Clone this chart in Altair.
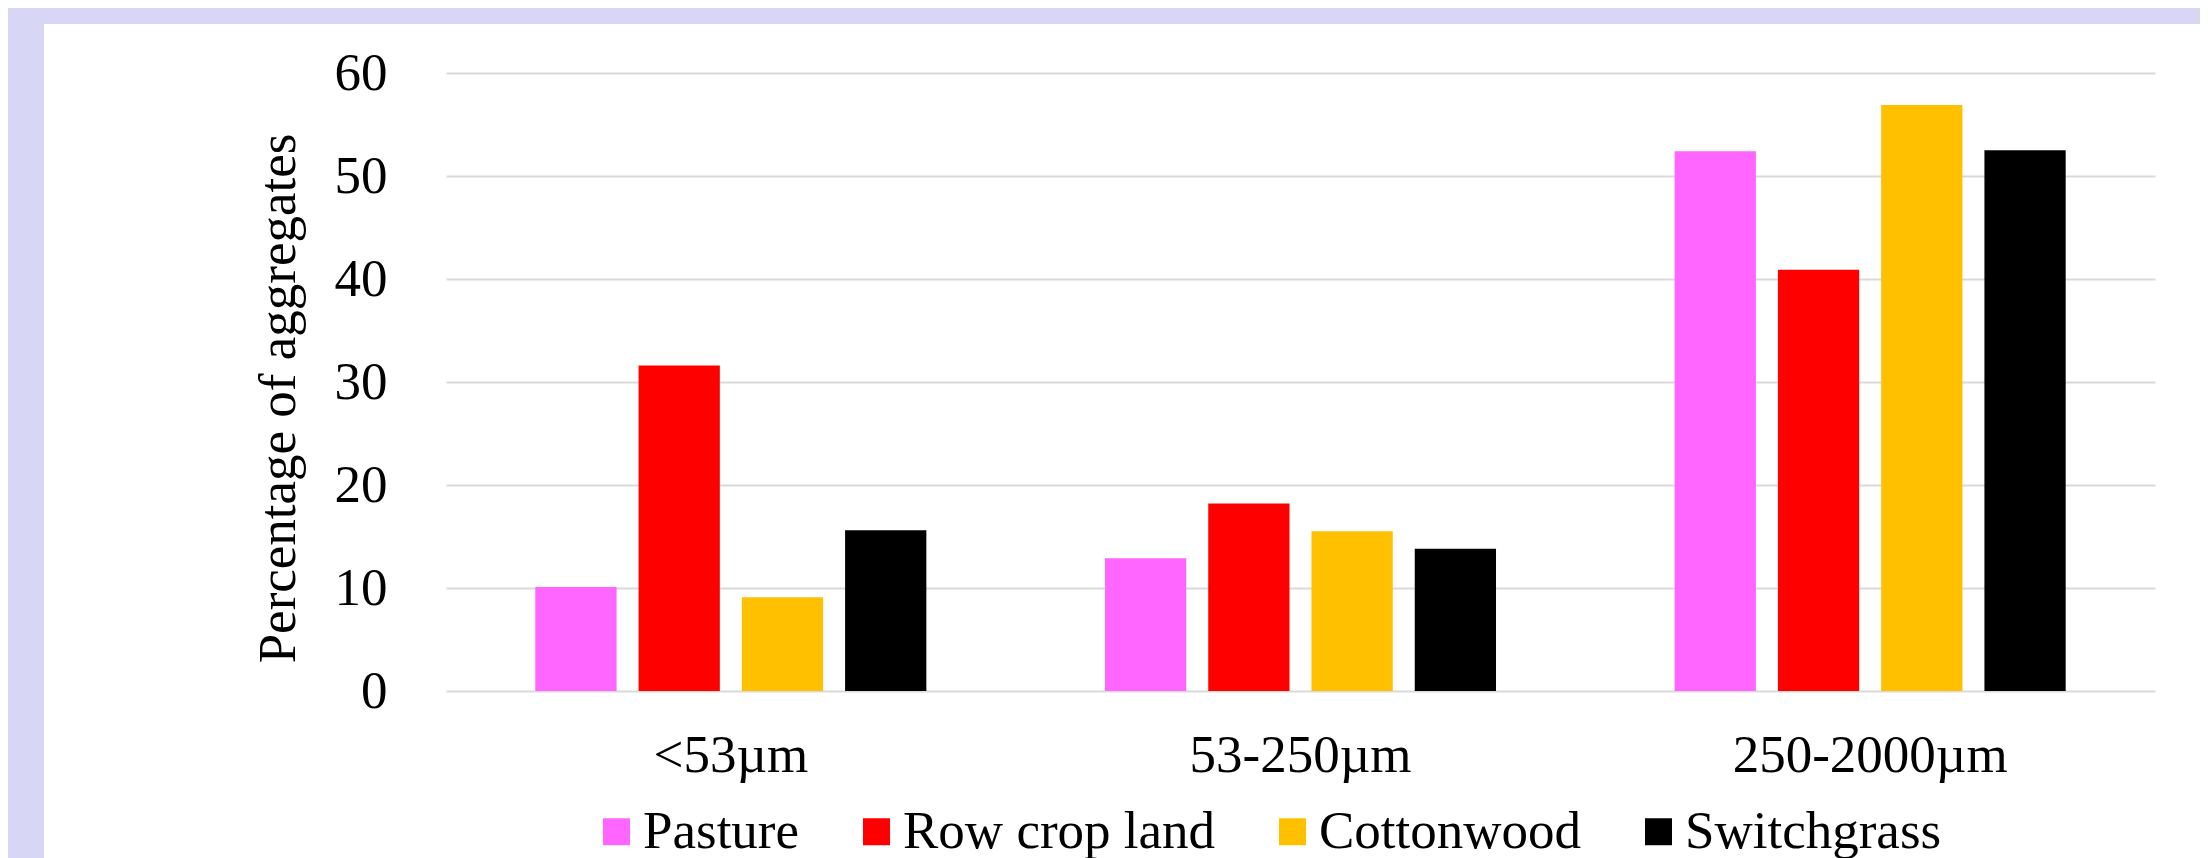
import altair as alt
import pandas as pd

categories = ["<53µm", "53-250µm", "250-2000µm"]
series = ["Pasture", "Row crop land", "Cottonwood", "Switchgrass"]
pasture = [10.1, 12.9, 52.4]
row_crop_land = [31.6, 18.2, 40.9]
cottonwood = [9.1, 15.5, 56.9]
switchgrass = [15.6, 13.8, 52.5]
colors = ["#FF66FF", "#FF0000", "#FFC000", "#000000"]
y_ticks = [0, 10, 20, 30, 40, 50, 60]

rows = []
for s, vals in zip(series, [pasture, row_crop_land, cottonwood, switchgrass]):
    for c, v in zip(categories, vals):
        rows.append({"size": c, "land": s, "value": v})
df = pd.DataFrame(rows)

W, H = 1709, 618
PAD_L, PAD_T, PAD_R, PAD_B = 438, 65, 45, 167
FONT = "Liberation Serif"
LAV = "#D7D7F5"

bg = pd.DataFrame({"k": [0]})
top_strip = alt.Chart(bg).mark_rect(color=LAV).encode(
    x=alt.value(-PAD_L), x2=alt.value(W + PAD_R),
    y=alt.value(-PAD_T), y2=alt.value(-PAD_T + 16),
)
left_strip = alt.Chart(bg).mark_rect(color=LAV).encode(
    x=alt.value(-PAD_L), x2=alt.value(-PAD_L + 36),
    y=alt.value(-PAD_T), y2=alt.value(H + PAD_B),
)

bars = alt.Chart(df).mark_bar(strokeWidth=0).encode(
    x=alt.X(
        "size:N", sort=categories, title=None,
        scale=alt.Scale(domain=categories, paddingInner=0, paddingOuter=0),
        axis=alt.Axis(
            labelAngle=0, domain=False, ticks=False, tickSize=0, grid=False,
            labelPadding=38, labelFontSize=53, labelFont=FONT,
            labelColor="black", labelLimit=1000,
        ),
    ),
    xOffset=alt.XOffset(
        "land:N", sort=series,
        scale=alt.Scale(domain=series, paddingInner=0.213, paddingOuter=0.865),
    ),
    y=alt.Y(
        "value:Q", title="Percentage of aggregates",
        scale=alt.Scale(domain=[0, 60], nice=False),
        axis=alt.Axis(
            values=y_ticks, grid=True, gridColor="#D9D9D9", gridWidth=2,
            domain=False, ticks=False, tickSize=0, labelPadding=59,
            labelFontSize=53, labelFont=FONT, labelColor="black",
            titleFont=FONT, titleFontSize=53, titleFontWeight="normal",
            titleColor="black", titleX=-152, titleY=325, titleAngle=270,
            titleBaseline="alphabetic", titleAlign="center",
        ),
    ),
    color=alt.Color(
        "land:N", sort=series,
        scale=alt.Scale(domain=series, range=colors),
        legend=alt.Legend(
            title=None, orient="none", legendX=144, legendY=732,
            direction="horizontal", columns=4, symbolType="square",
            symbolSize=729, symbolStrokeWidth=0, labelFontSize=53,
            labelFont=FONT, labelColor="black", columnPadding=50,
            labelOffset=0, padding=0, labelLimit=1000,
        ),
    ),
)

chart = alt.layer(top_strip, left_strip, bars).properties(
    width=W, height=H,
    autosize=alt.AutoSizeParams(type="none"),
    padding={"left": PAD_L, "top": PAD_T, "right": PAD_R, "bottom": PAD_B},
    background="white",
).configure_view(stroke=None)

chart.save("out.html", embed_options={"renderer": "svg", "actions": False})
